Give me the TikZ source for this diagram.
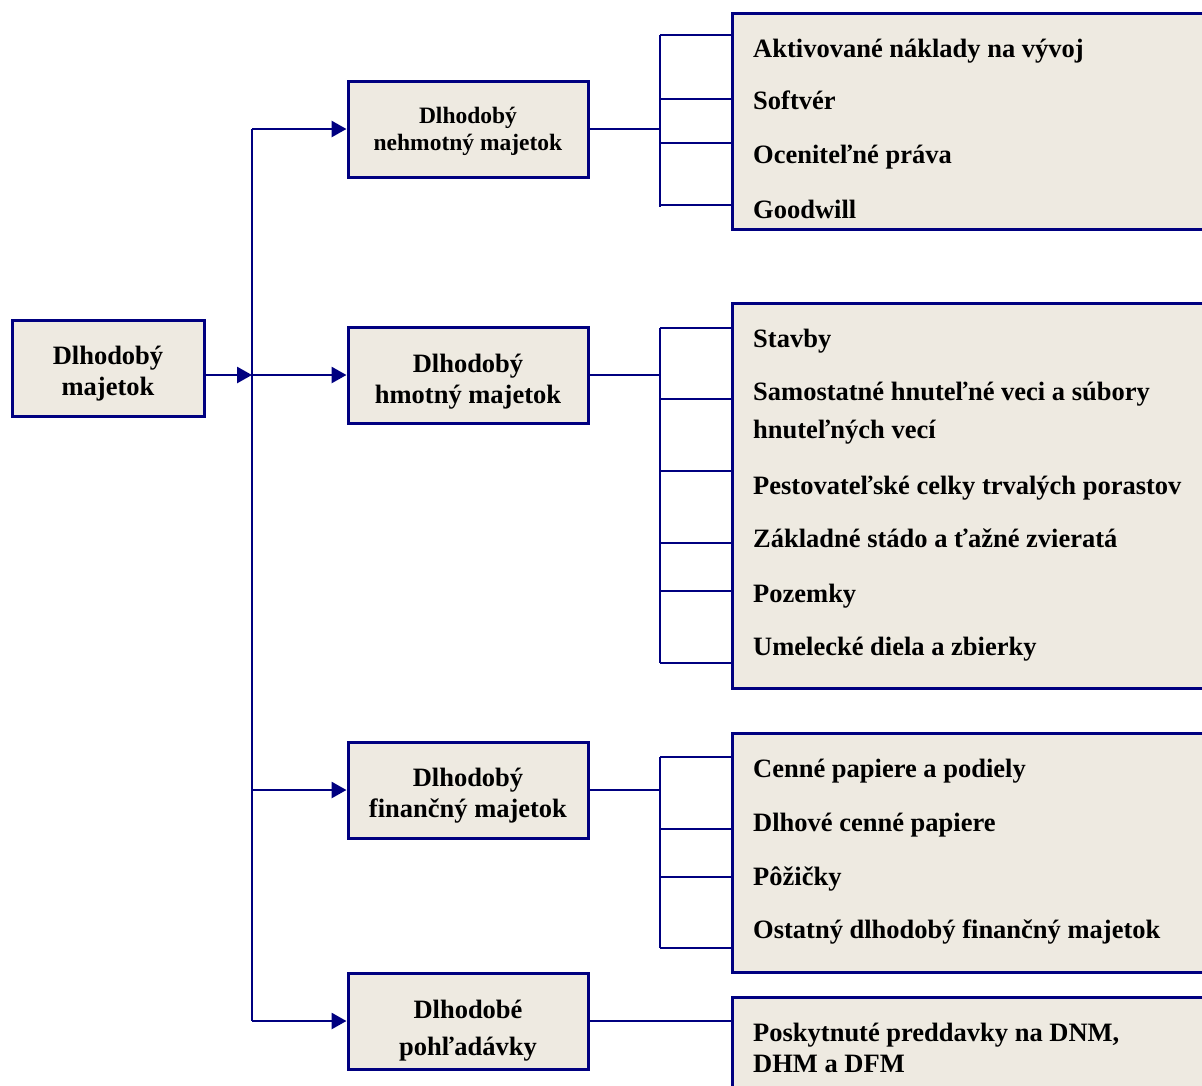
\documentclass[tikz,border=0pt]{standalone}
\usepackage{fontspec}
\setmainfont{Liberation Serif}
\usepackage{tikz}
\usetikzlibrary{positioning,arrows.meta}

\definecolor{navy}{RGB}{0,0,128}
\definecolor{paper}{RGB}{238,234,225}

% raise the first line of a box
\newcommand{\topgap}[1]{\rule{0pt}{#1}}

\tikzset{
  box/.style={draw=navy, line width=3pt, fill=paper, rectangle, inner sep=0pt, align=center,
    font=\bfseries\fontsize{26.5}{31}\selectfont},
  listbox/.style={draw=navy, line width=3pt, fill=paper, rectangle, inner sep=0pt, minimum width=490pt},
  item/.style={anchor=base west, inner sep=0pt, align=left, font=\bfseries\fontsize{26.5}{31}\selectfont},
  link/.style={draw=navy, line width=2.8pt},
  arrow/.style={link, -{Triangle[length=15pt,width=16pt]}}
}

\begin{document}
\begin{tikzpicture}[x=1pt, y=-1pt]
  \useasboundingbox (0,0) rectangle (1202,1085);
  \clip (0,0) rectangle (1202,1085);

  % Root box
  \node[box, minimum width=192pt, minimum height=96pt] (root) at (108,368) {\topgap{29pt}Dlhodobý\\majetok};

  % Second level boxes
  \node[box, minimum width=240pt, minimum height=96pt, font=\bfseries\fontsize{23.5}{27}\selectfont] (intang) at (468,129) {\topgap{21pt}Dlhodobý\\nehmotný majetok};
  \node[box, minimum width=240pt, minimum height=96pt] (tang) at (468,375) {\topgap{31pt}Dlhodobý\\hmotný majetok};
  \node[box, minimum width=240pt, minimum height=96pt] (fin) at (468,790) {\topgap{29pt}Dlhodobý\\finančný majetok};
  \node[box, minimum width=240pt, minimum height=96pt, font=\bfseries\fontsize{26.5}{37}\selectfont] (recv) at (468,1021) {\topgap{37pt}Dlhodobé\\pohľadávky};

  % Trunk with arrows
  \coordinate (trunk) at (252,0);
  \draw[arrow] (root.east |- tang.west) -- (trunk |- tang.west);
  \draw[link] (trunk |- intang.west) -- (trunk |- recv.west);
  \foreach \b in {intang,tang,fin,recv}
    \draw[arrow] (trunk |- \b.west) -- (\b.west);

  % Lists on the right
  \node[listbox, minimum height=216pt] (intangList) at (977,121) {};
  \node[listbox, minimum height=385pt] (tangList) at (977,495.5) {};
  \node[listbox, minimum height=239pt] (finList) at (977,852.5) {};
  \node[listbox, minimum height=104pt] (recvList) at (977,1049) {};

  % Items of the lists
  \node[item] (aktiv) at (753,57) {Aktivované náklady na vývoj};
  \node[item] (soft) at (753,109) {Softvér};
  \node[item] (ocen) at (753,163) {Oceniteľné práva};
  \node[item] (good) at (753,218) {Goodwill};

  \node[item] (stavby) at (753,347) {Stavby};
  \node[item, anchor=west, font=\bfseries\fontsize{26.5}{38}\selectfont] (hnut) at (753,413) {Samostatné hnuteľné veci a súbory\\hnuteľných vecí};
  \node[item] (pest) at (753,494) {Pestovateľské celky trvalých porastov};
  \node[item] (stado) at (753,547) {Základné stádo a ťažné zvieratá};
  \node[item] (pozem) at (753,602) {Pozemky};
  \node[item] (umel) at (753,655) {Umelecké diela a zbierky};

  \node[item] (cenne) at (753,777) {Cenné papiere a podiely};
  \node[item] (dlhove) at (753,831) {Dlhové cenné papiere};
  \node[item] (pozic) at (753,885) {Pôžičky};
  \node[item] (ostat) at (753,938) {Ostatný dlhodobý finančný majetok};

  \node[item, anchor=west] (posk) at (753,1048) {Poskytnuté preddavky na DNM,\\DHM a DFM};

  % Brackets
  \coordinate (bracket) at (660,0);
  \draw[link] (intang.east) -- (intang.east -| bracket);
  \draw[link] (bracket |- 0,35) -- (bracket |- 0,207);
  \foreach \y in {35,99,143,205}
    \draw[link] (bracket |- 0,\y) -- (intangList.west |- 0,\y);

  \draw[link] (tang.east) -- (tang.east -| bracket);
  \draw[link] (bracket |- 0,328) -- (bracket |- 0,663);
  \foreach \y in {328,399,471,543,591,663}
    \draw[link] (bracket |- 0,\y) -- (tangList.west |- 0,\y);

  \draw[link] (fin.east) -- (fin.east -| bracket);
  \draw[link] (bracket |- 0,757) -- (bracket |- 0,948);
  \foreach \y in {757,829,877,948}
    \draw[link] (bracket |- 0,\y) -- (finList.west |- 0,\y);

  \draw[link] (recv.east) -- (recvList.west |- recv.east);
\end{tikzpicture}
\end{document}
